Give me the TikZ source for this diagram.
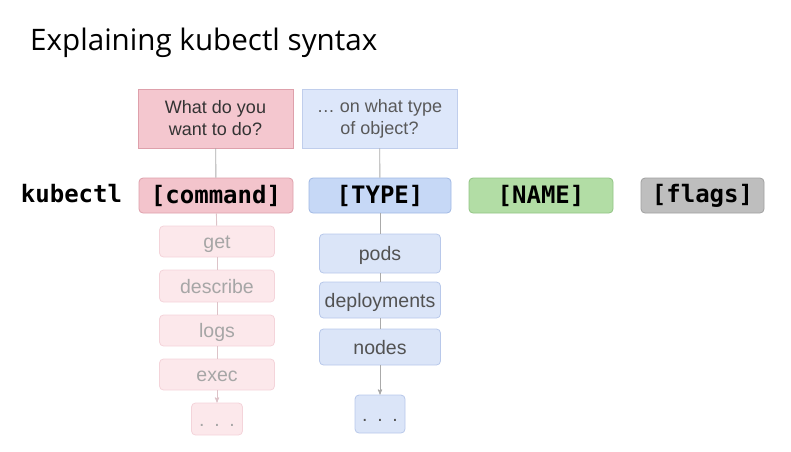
\documentclass[tikz,border=0pt]{standalone}
\usepackage{fontspec}
\setmainfont{Liberation Sans}
\setmonofont{DejaVu Sans Mono}
\newfontfamily\titlefont{Open Sans}
\usepackage{xcolor}
\usetikzlibrary{arrows,positioning}
\tikzset{>=stealth'}

\definecolor{askpink}{RGB}{244,199,207}
\definecolor{askpinkline}{RGB}{222,160,171}
\definecolor{askblue}{RGB}{221,231,250}
\definecolor{askblueline}{RGB}{192,206,236}
\definecolor{cmdpink}{RGB}{243,196,204}
\definecolor{typeblue}{RGB}{198,216,246}
\definecolor{typeblueline}{RGB}{160,184,228}
\definecolor{namegreen}{RGB}{178,221,165}
\definecolor{namegreenline}{RGB}{146,196,132}
\definecolor{flaggray}{RGB}{190,190,190}
\definecolor{flaggrayline}{RGB}{160,160,160}
\definecolor{itempink}{RGB}{252,232,235}
\definecolor{itempinkline}{RGB}{244,212,218}
\definecolor{itemblue}{RGB}{219,229,248}
\definecolor{itemblueline}{RGB}{184,200,234}
\definecolor{linkgray}{RGB}{170,170,170}

\begin{document}
\begin{tikzpicture}[x=1pt,y=-1pt,
                    question/.style={draw, line width=0.8pt, minimum width=155pt, minimum height=59pt,
                                     inner sep=0pt, align=center, font=\fontsize{18}{22}\selectfont, text=black!80},
                    part/.style={draw, line width=0.8pt, rounded corners=4pt, minimum height=35pt, inner sep=0pt,
                                 font=\ttfamily\bfseries\fontsize{24}{26}\selectfont},
                    cmditem/.style={draw=itempinkline, fill=itempink, line width=0.8pt, rounded corners=4pt,
                                    minimum width=115pt, minimum height=31pt, inner sep=0pt,
                                    text height=16pt, text depth=1.4pt,
                                    font=\fontsize{19.5}{21}\selectfont, text=black!35},
                    typeitem/.style={draw=itemblueline, fill=itemblue, line width=0.8pt, rounded corners=4pt,
                                     minimum width=121pt, minimum height=36pt, inner sep=0pt,
                                     text height=16pt, text depth=1.4pt,
                                     font=\fontsize{19.5}{21}\selectfont, text=black!68},
                    link/.style={linkgray, line width=0.9pt},
                   ]

\useasboundingbox (0,0) rectangle (791,451);

% title
\node[anchor=base west, inner sep=0pt, font=\titlefont\fontsize{29.6}{34}\selectfont] (title) at (30,50) {Explaining kubectl syntax};

% the questions
\node[question, fill=askpink, draw=askpinkline] (askcmd) at (215.5,118.5) {What do you\\want to do?};
\node[question, fill=askblue, draw=askblueline, text=black!65] (asktype) at (379.5,118.5) {\dots\ on what type\\of object?};

% the command line
\node[inner sep=0pt, font=\ttfamily\bfseries\fontsize{24}{26}\selectfont] (kubectl) at (71.5,194) {kubectl};
\node[part, fill=cmdpink, draw=askpinkline, minimum width=154pt] (cmd) at (216,195.5) {[command]};
\node[part, fill=typeblue, draw=typeblueline, minimum width=142pt] (type) at (380,195.5) {[TYPE]};
\node[part, fill=namegreen, draw=namegreenline, minimum width=144pt] (name) at (541,195.5) {[NAME]};
\node[part, fill=flaggray, draw=flaggrayline, minimum width=123pt] (flags) at (702.5,195.5) {[flags]};

% commands
\node[cmditem] (get) at (217,241.5) {get};
\node[cmditem, minimum height=32pt] (describe) at (217,286) {describe};
\node[cmditem] (logs) at (217,330.5) {logs};
\node[cmditem] (exec) at (217,374.5) {exec};
\node[cmditem, minimum width=51pt, minimum height=32pt] (cmddots) at (217,419) {.\,\,\,.\,\,\,.};

% object types
\node[typeitem, minimum height=39pt] (pods) at (380,253.5) {pods};
\node[typeitem] (deploy) at (380,300) {deployments};
\node[typeitem] (nodes) at (380,347) {nodes};
\node[typeitem, minimum width=50pt, minimum height=38pt] (typedots) at (380,414) {.\,\,\,.\,\,\,.};

% connectors
\draw[link] (askcmd) -- (cmd);
\draw[link] (asktype) -- (type);
\draw[link, itempinkline!80!gray] (cmd) -- (get);
\draw[link, itempinkline!80!gray] (get) -- (describe);
\draw[link, itempinkline!80!gray] (describe) -- (logs);
\draw[link, itempinkline!80!gray] (logs) -- (exec);
\draw[link, itempinkline!80!gray, ->] (exec) -- (cmddots);
\draw[link] (type) -- (pods);
\draw[link] (pods) -- (deploy);
\draw[link] (deploy) -- (nodes);
\draw[link, ->] (nodes) -- (typedots);

\end{tikzpicture}
\end{document}
